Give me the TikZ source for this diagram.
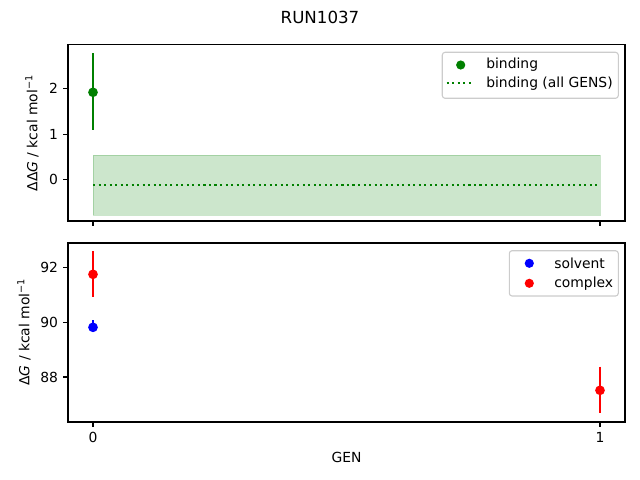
\documentclass[tikz,border=0pt]{standalone}
\usepackage{fontspec}
\setmainfont{DejaVu Sans}
\usepackage{xcolor}
\definecolor{mplgreen}{HTML}{008000}
\definecolor{mplred}{HTML}{FF0000}
\definecolor{mplblue}{HTML}{0000FF}
\definecolor{legendedge}{HTML}{CCCCCC}

\begin{document}
\begin{tikzpicture}[x=0.72pt,y=-0.72pt,font=\fontsize{10}{12}\selectfont,
    spine/.style={line width=0.8pt},
    tickmark/.style={line width=0.8pt},
    errbar/.style={line width=1.5pt},
    dotline/.style={line width=1.5pt,dash pattern=on 1.5pt off 2.475pt},
    legendbox/.style={draw=legendedge,fill=white,fill opacity=0.8,rounded corners=2pt,line width=0.8pt}]
            \useasboundingbox (0,0) rectangle (640,480);
            \node (title) at (320,17) {\fontsize{12}{14}\selectfont RUN1037};
            % top panel
            \fill[mplgreen,fill opacity=0.2] (93,155) rectangle (600,215); % band
            \draw[mplgreen,draw opacity=0.2] (93,155) rectangle (600,215);
            \draw[mplgreen,dotline] (93,185) -- (600,185); % all GENS
            \draw[mplgreen,errbar] (93,53.3) -- (93,130);
            \fill[mplgreen] (93,92.3) circle[radius=3.5pt];
            \draw[spine] (68,44.7) rectangle (625,221); % frame
            \foreach \v/\py in {0/179.3,1/134.3,2/88.3}{
              \draw[tickmark] (68,\py) -- (63.1,\py);
              \node[anchor=east,inner sep=0pt] (ytop\v) at (58.2,\py) {\v};
            }
            \draw[tickmark] (93,221) -- (93,225.9);
            \draw[tickmark] (600,221) -- (600,225.9);
            \node[rotate=90] (ylabtop) at (32,133) {ΔΔ\textit{G} / kcal mol\textsuperscript{−1}};
            % legend top
            \draw[legendbox] (442.3,52.3) rectangle (618.3,98.3);
            \fill[mplgreen] (460.7,65) circle[radius=3.3pt];
            \node[anchor=west,inner sep=0pt] (legbind) at (486,65) {binding};
            \draw[mplgreen,dotline] (446.7,83.3) -- (471.7,83.3);
            \node[anchor=west,inner sep=0pt] (legall) at (486,83.3) {binding (all GENS)};
            % bottom panel
            \draw[mplblue,errbar] (93,320) -- (93,331.7);
            \fill[mplblue] (93,327.3) circle[radius=3.5pt];
            \draw[mplred,errbar] (93,251) -- (93,296.7);
            \fill[mplred] (93,274.3) circle[radius=3.5pt];
            \draw[mplred,errbar] (600,366.7) -- (600,413.3);
            \fill[mplred] (600,390.3) circle[radius=3.5pt];
            \draw[spine] (68,243) rectangle (625,422); % frame
            \foreach \v/\py in {88/377,90/322.3,92/267.3}{
              \draw[tickmark] (68,\py) -- (63.1,\py);
              \node[anchor=east,inner sep=0pt] (ybot\v) at (58.2,\py) {\v};
            }
            \foreach \v/\px in {0/93,1/600}{
              \draw[tickmark] (\px,422) -- (\px,426.9);
              \node[anchor=north,inner sep=0pt] (xbot\v) at (\px,431.8) {\v};
            }
            \node[rotate=90] (ylabbot) at (24,332) {Δ\textit{G} / kcal mol\textsuperscript{−1}};
            \node (xlab) at (346.5,457) {GEN};
            % legend bottom
            \draw[legendbox] (509.3,250.7) rectangle (618.3,296);
            \fill[mplblue] (529.3,263.3) circle[radius=3.3pt];
            \node[anchor=west,inner sep=0pt] (legsolv) at (554,263.3) {solvent};
            \fill[mplred] (529.3,283.3) circle[radius=3.3pt];
            \node[anchor=west,inner sep=0pt] (legcplx) at (554,283.3) {complex};
        \end{tikzpicture}
\end{document}
